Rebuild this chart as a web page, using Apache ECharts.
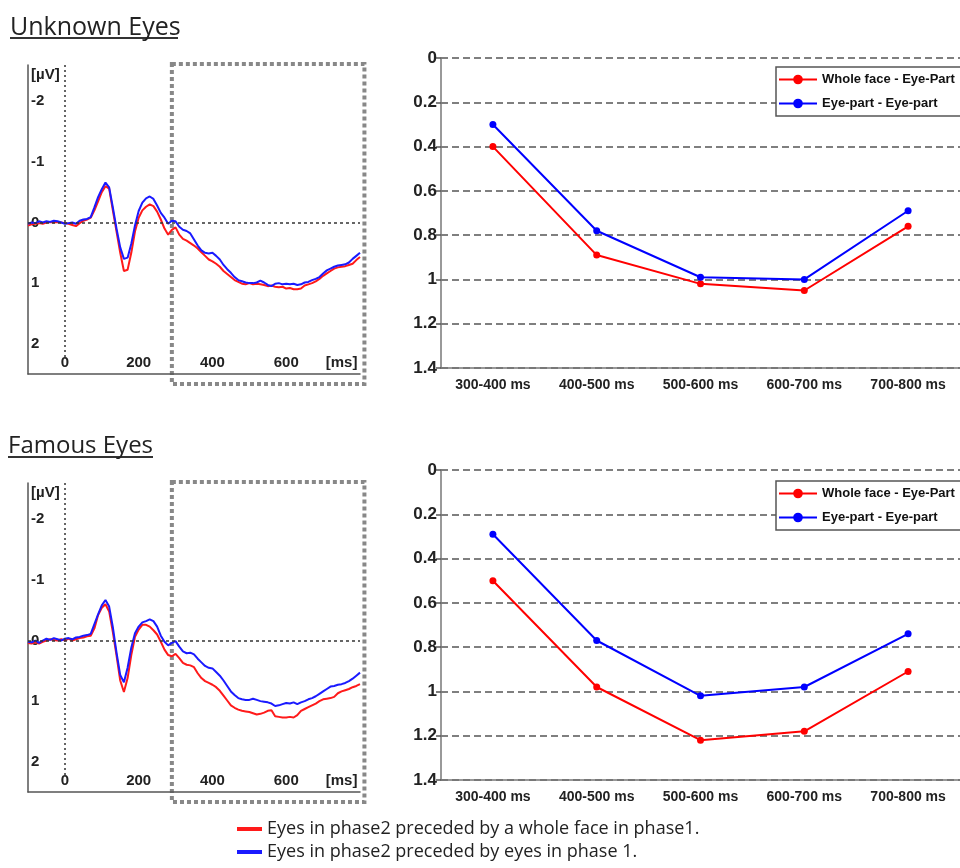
<!DOCTYPE html>
<html>
<head>
<meta charset="utf-8">
<script src="https://cdn.jsdelivr.net/npm/echarts@6/dist/echarts.min.js"></script>
<style>
  html, body { margin: 0; padding: 0; background: #fff; }
  #chart { width: 960px; height: 868px; }
</style>
</head>
<body>
<div id="chart"></div>
<script>
// ERP time points (ms)
const erpTime = [
  -100, -90, -80, -70, -60, -50, -40, -30, -20, -10,
  0, 10, 20, 30, 40, 50, 60, 70, 80, 90,
  100, 110, 120, 130, 140, 150, 160, 170, 180, 190,
  200, 210, 220, 230, 240, 250, 260, 270, 280, 290,
  300, 310, 320, 330, 340, 350, 360, 370, 380, 390,
  400, 410, 420, 430, 440, 450, 460, 470, 480, 490,
  500, 510, 520, 530, 540, 550, 560, 570, 580, 590,
  600, 610, 620, 630, 640, 650, 660, 670, 680, 690,
  700, 710, 720, 730, 740, 750, 760, 770, 780, 790,
  800
]

// Unknown eyes, ERP (µV)
const unknownWholeErp = [
  0.05, 0.03, 0.02, 0.01, 0.02, 0.0, -0.01, 0.0, -0.01, 0.0,
  0.01, 0.02, 0.04, 0.06, 0.01, -0.03, -0.05, -0.08, -0.2, -0.35,
  -0.5, -0.6, -0.56, -0.2, 0.15, 0.5, 0.8, 0.78, 0.5, 0.15,
  -0.08, -0.2, -0.26, -0.3, -0.27, -0.18, -0.05, 0.1, 0.2, 0.12,
  0.08, 0.2, 0.27, 0.3, 0.34, 0.38, 0.43, 0.49, 0.55, 0.61,
  0.64, 0.68, 0.73, 0.8, 0.85, 0.9, 0.95, 0.98, 1.01, 1.02,
  1.0, 1.02, 1.01, 1.02, 1.03, 1.05, 1.04, 1.06, 1.07, 1.06,
  1.09, 1.08, 1.1, 1.1, 1.09, 1.04, 1.02, 1.0, 0.97, 0.93,
  0.88, 0.84, 0.8, 0.76, 0.74, 0.73, 0.72, 0.7, 0.68, 0.62,
  0.57
]
const unknownEyeErp = [
  0.02, 0.0, 0.01, -0.02, 0.0, -0.02, -0.01, -0.03, -0.02, 0.0,
  0.02, 0.01, 0.0, 0.02, -0.03, -0.05, -0.06, -0.09, -0.25, -0.42,
  -0.55, -0.66, -0.58, -0.25, 0.1, 0.41, 0.6, 0.58, 0.35, 0.05,
  -0.19, -0.33, -0.4, -0.43, -0.39, -0.28, -0.16, -0.08, 0.02, -0.03,
  -0.02, 0.07, 0.12, 0.14, 0.18, 0.28, 0.38, 0.46, 0.5, 0.51,
  0.5, 0.55, 0.61, 0.7, 0.77, 0.83, 0.9, 0.95, 0.97, 0.99,
  1.0, 1.0, 0.99, 0.96, 0.99, 1.03, 1.05, 1.01, 1.0, 1.02,
  1.01, 1.02, 1.01, 1.03, 1.02, 0.99, 0.98, 0.95, 0.93, 0.9,
  0.84, 0.79, 0.76, 0.73, 0.71, 0.7, 0.69, 0.66, 0.6, 0.55,
  0.5
]

// Famous eyes, ERP (µV)
const famousWholeErp = [
  0.04, 0.05, 0.03, 0.05, 0.02, 0.0, -0.02, -0.01, 0.0, -0.02,
  0.0, -0.03, 0.0, -0.02, -0.04, -0.05, -0.07, -0.08, -0.2, -0.42,
  -0.54, -0.6, -0.48, -0.14, 0.25, 0.66, 0.85, 0.62, 0.24, -0.06,
  -0.18, -0.26, -0.26, -0.23, -0.17, -0.1, 0.02, 0.15, 0.24, 0.26,
  0.22, 0.29, 0.37, 0.4, 0.41, 0.44, 0.54, 0.62, 0.67, 0.7,
  0.73, 0.77, 0.83, 0.91, 0.99, 1.07, 1.11, 1.14, 1.16, 1.17,
  1.18, 1.2, 1.22, 1.21, 1.19, 1.16, 1.15, 1.25, 1.26, 1.27,
  1.27, 1.26, 1.27, 1.23, 1.16, 1.13, 1.1, 1.07, 1.04, 1.0,
  0.97, 0.96, 0.95, 0.93, 0.87, 0.84, 0.82, 0.8, 0.77, 0.75,
  0.72
]
const famousEyeErp = [
  0.02, 0.03, 0.0, 0.04, 0.0, -0.03, -0.01, -0.04, -0.02, 0.0,
  -0.03, -0.04, -0.02, -0.05, -0.06, -0.08, -0.09, -0.11, -0.27, -0.43,
  -0.58, -0.67, -0.56, -0.22, 0.2, 0.57, 0.69, 0.45, 0.12, -0.12,
  -0.23, -0.3, -0.32, -0.35, -0.32, -0.23, -0.08, 0.02, 0.08, 0.04,
  0.01, 0.1, 0.18, 0.21, 0.2, 0.23, 0.3, 0.36, 0.42, 0.45,
  0.46, 0.52, 0.58, 0.66, 0.75, 0.84, 0.9, 0.95, 0.97, 0.98,
  0.98, 0.96, 0.98, 1.0, 1.01, 1.02, 1.04, 1.08, 1.07, 1.05,
  1.03, 1.04, 1.02, 1.05, 1.02, 1.0, 0.97, 0.95, 0.92, 0.88,
  0.84, 0.8, 0.76, 0.75, 0.73, 0.72, 0.7, 0.67, 0.63, 0.58,
  0.53
]

// mean amplitudes per time window
const windows = ['300-400 ms', '400-500 ms', '500-600 ms', '600-700 ms', '700-800 ms']
const unknownWhole = [0.40, 0.89, 1.02, 1.05, 0.76]
const unknownEye = [0.30, 0.78, 0.99, 1.00, 0.69]
const famousWhole = [0.50, 0.98, 1.22, 1.18, 0.91]
const famousEye = [0.29, 0.77, 1.02, 0.98, 0.74]

const erpYTicks = [-2.43, -2, -1, 0, 1, 2]
const erpXTicks = [0, 200, 400, 600, 750]

const RED = '#ff1a1a'
const BLUE = '#1a1aff'
const nameWholeErp = 'Eyes in phase2 preceded by a whole face in phase1.'
const nameEyeErp = 'Eyes in phase2 preceded by eyes in phase 1.'
const nameWhole = 'Whole face - Eye-Part'
const nameEye = 'Eye-part - Eye-part'

const FONT = 'Liberation Sans'

const pairs = vals => erpTime.map((t, i) => [t, vals[i]])

function erpXAxis(gridIndex) {
  return {
    type: 'value',
    gridIndex,
    min: -100,
    max: 800,
    axisLine: { onZero: false, lineStyle: { color: '#555', width: 1.5 } },
    axisTick: { show: false },
    splitLine: { show: false },
    axisLabel: {
      inside: true,
      margin: 4,
      customValues: erpXTicks,
      formatter: v => (v === 750 ? '[ms]' : String(v)),
      fontFamily: FONT,
      fontSize: 15,
      fontWeight: 'bold',
      color: '#222'
    }
  }
}

function erpYAxis(gridIndex) {
  return {
    type: 'value',
    gridIndex,
    inverse: true,
    min: -2.6,
    max: 2.5,
    axisLine: { show: true, onZero: false, lineStyle: { color: '#555', width: 1.5 } },
    axisTick: { show: false },
    splitLine: { show: false },
    axisLabel: {
      inside: true,
      margin: 3,
      customValues: erpYTicks,
      formatter: v => (v < -2.2 ? '[µV]' : String(v)),
      fontFamily: FONT,
      fontSize: 15,
      fontWeight: 'bold',
      color: '#222'
    }
  }
}

function meanXAxis(gridIndex) {
  return {
    type: 'category',
    gridIndex,
    data: windows,
    position: 'bottom',
    axisLine: { onZero: false, lineStyle: { color: '#777', width: 1.5 } },
    axisTick: { inside: true, length: 6, lineStyle: { color: '#777', width: 1.5 } },
    axisLabel: { interval: 0, margin: 10, fontFamily: FONT, fontSize: 14, fontWeight: 'bold', color: '#222' }
  }
}

function meanYAxis(gridIndex) {
  return {
    type: 'value',
    gridIndex,
    inverse: true,
    min: 0,
    max: 1.4,
    interval: 0.2,
    axisLine: { show: true, onZero: false, lineStyle: { color: '#777', width: 1.5 } },
    axisTick: { show: true, length: 5, lineStyle: { color: '#555', width: 1.5 } },
    splitLine: { lineStyle: { type: [7, 4], color: '#555', width: 1.5 } },
    axisLabel: { margin: 4, fontFamily: FONT, fontSize: 17, fontWeight: 'bold', color: '#222' }
  }
}

function erpMarks() {
  return {
    silent: true,
    symbol: 'none',
    label: { show: false },
    data: [
      { yAxis: 0, lineStyle: { type: [3, 3], color: '#333', width: 1.5 } },
      [
        { coord: [0, -2.6], lineStyle: { type: [2, 3], color: '#333', width: 1.5 } },
        { coord: [0, 2.25] }
      ]
    ]
  }
}

function erpSeries(name, vals, color, idx, marks) {
  const s = {
    name,
    type: 'line',
    xAxisIndex: idx,
    yAxisIndex: idx,
    data: pairs(vals),
    showSymbol: false,
    symbol: 'none',
    lineStyle: { color, width: 2 },
    itemStyle: { color }
  }
  if (marks) s.markLine = erpMarks()
  return s
}

function meanSeries(name, vals, color, idx) {
  return {
    name,
    type: 'line',
    xAxisIndex: idx,
    yAxisIndex: idx,
    data: vals,
    symbol: 'circle',
    symbolSize: 7,
    lineStyle: { color, width: 2 },
    itemStyle: { color }
  }
}

function sideLegend(top) {
  return {
    data: [nameWhole, nameEye],
    orient: 'vertical',
    left: 776,
    top,
    padding: [6, 30, 6, 2],
    itemGap: 11,
    itemWidth: 38,
    itemHeight: 12,
    backgroundColor: '#fff',
    borderColor: '#555',
    borderWidth: 1.5,
    textStyle: { fontFamily: FONT, fontSize: 13, fontWeight: 'bold', color: '#111' }
  }
}

const chart = echarts.init(document.getElementById('chart'))

chart.setOption({
  backgroundColor: '#fff',
  animation: false,
  title: [
    { text: 'Unknown Eyes', left: 10, top: 15, padding: 0,
      textStyle: { fontFamily: 'Open Sans', fontSize: 25, fontWeight: 'normal', color: '#222' } },
    { text: 'Famous Eyes', left: 8, top: 434, padding: 0,
      textStyle: { fontFamily: 'Open Sans', fontSize: 24, fontWeight: 'normal', color: '#222' } }
  ],
  legend: [
    sideLegend(67),
    sideLegend(481),
    {
      data: [nameWholeErp, nameEyeErp],
      orient: 'vertical',
      left: 237,
      top: 820,
      padding: 0,
      itemGap: 5,
      icon: 'rect',
      itemWidth: 25,
      itemHeight: 4,
      textStyle: { fontFamily: 'Open Sans', fontSize: 18, color: '#222' }
    }
  ],
  grid: [
    { left: 28, top: 65, width: 332, height: 309 },
    { left: 441, top: 58, width: 525, height: 310 },
    { left: 28, top: 483, width: 332, height: 309 },
    { left: 441, top: 470, width: 525, height: 310 }
  ],
  xAxis: [erpXAxis(0), meanXAxis(1), erpXAxis(2), meanXAxis(3)],
  yAxis: [erpYAxis(0), meanYAxis(1), erpYAxis(2), meanYAxis(3)],
  series: [
    erpSeries(nameWholeErp, unknownWholeErp, RED, 0, true),
    erpSeries(nameEyeErp, unknownEyeErp, BLUE, 0, false),
    meanSeries(nameWhole, unknownWhole, '#ff0000', 1),
    meanSeries(nameEye, unknownEye, '#0000ff', 1),
    erpSeries(nameWholeErp, famousWholeErp, RED, 2, true),
    erpSeries(nameEyeErp, famousEyeErp, BLUE, 2, false),
    meanSeries(nameWhole, famousWhole, '#ff0000', 3),
    meanSeries(nameEye, famousEye, '#0000ff', 3)
  ]
})

// dotted analysis-window boxes and title underlines
function windowBox(gridIndex, top, bottom) {
  const x1 = chart.convertToPixel({ gridIndex }, [290, 0])[0]
  const x2 = chart.convertToPixel({ gridIndex }, [812, 0])[0]
  return {
    type: 'rect',
    shape: { x: x1, y: top, width: x2 - x1, height: bottom - top },
    style: { fill: 'none', stroke: '#888', lineWidth: 4, lineDash: [4, 3] },
    silent: true
  }
}

chart.setOption({
  graphic: [
    windowBox(0, 64, 384),
    windowBox(2, 482, 802),
    { type: 'line', shape: { x1: 10, y1: 38, x2: 178, y2: 38 }, style: { stroke: '#333', lineWidth: 2 } },
    { type: 'line', shape: { x1: 8, y1: 457, x2: 153, y2: 457 }, style: { stroke: '#333', lineWidth: 2 } }
  ]
})
</script>
</body>
</html>
